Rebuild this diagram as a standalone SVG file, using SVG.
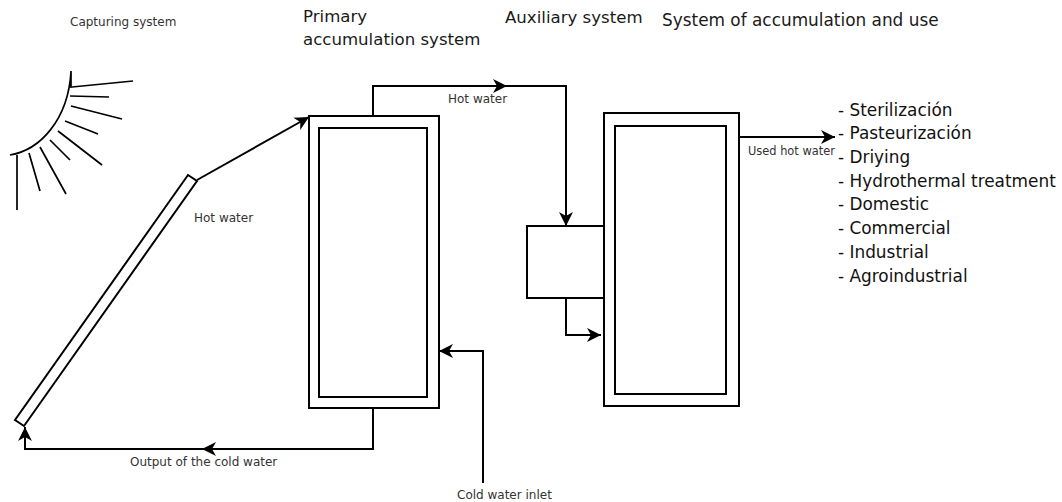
<svg xmlns="http://www.w3.org/2000/svg" width="1062" height="502" viewBox="0 0 1062 502">
<style>
text{font-family:"DejaVu Sans",sans-serif;fill:#1a1a1a}
.s{font-size:12px;fill:#333}
.h{font-size:16.6px}
.l{font-size:16.9px;fill:#111}
.w{fill:#fff;stroke:#000;stroke-width:2}
.c{fill:none;stroke:#000;stroke-width:2}
.t{fill:none;stroke:#000;stroke-width:1.7}
</style>
<defs>
<marker id="a" markerUnits="userSpaceOnUse" markerWidth="16" markerHeight="16" refX="14" refY="8" orient="auto"><path d="M0 1L14 8L0 15L4 8Z" fill="#000"/></marker>
</defs>
<rect width="1062" height="502" fill="#fff"/>
<g id="sun">
<path class="t" d="M10 155C40 150 68 120 71 72M71 71V88M72 87L133 81M70 96L109 97M71 106L122 119M65 121L98 134M58 131L102 165M50 140L70 160M40 147L66 194M29 153L40 191M17 155V210"/>
</g>
<g id="collector"><path class="w" d="M188 175L197 181L24 426L15 420Z"/></g>
<g id="primary">
<rect class="w" x="309" y="116" width="130" height="292"/>
<rect class="w" x="319" y="128" width="108" height="269"/>
</g>
<g id="auxiliary"><rect class="w" x="527" y="226" width="78" height="72"/></g>
<g id="secondary">
<rect class="w" x="604" y="113" width="135" height="293"/>
<rect class="w" x="615" y="126" width="111" height="268"/>
</g>
<g id="connectors">
<path class="c" marker-end="url(#a)" d="M197 180L309 117"/>
<path class="c" marker-end="url(#a)" d="M373 116V86H507"/>
<path class="c" marker-end="url(#a)" d="M507 86H566V226"/>
<path class="c" marker-end="url(#a)" d="M566 298V335H601"/>
<path class="c" marker-end="url(#a)" d="M739 137H835"/>
<path class="c" marker-end="url(#a)" d="M483 483V351H439"/>
<path class="c" marker-end="url(#a)" d="M373 408V449H202"/>
<path class="c" marker-end="url(#a)" d="M202 449H25V427"/>
</g>
<g id="labels">
<text class="s" x="70" y="26">Capturing system</text>
<text class="s" x="194" y="222">Hot water</text>
<text class="s" x="448" y="103">Hot water</text>
<text class="s" x="748" y="155" style="font-size:11.4px">Used hot water</text>
<text class="s" x="130" y="466">Output of the cold water</text>
<text class="s" x="457" y="499">Cold water inlet</text>
<text class="h" x="303" y="22">Primary</text>
<text class="h" x="303" y="45">accumulation system</text>
<text class="h" x="505" y="23">Auxiliary system</text>
<text class="h" x="662" y="26" style="font-size:16.9px">System of accumulation and use</text>
<text class="l" x="838" y="116">- Sterilización</text>
<text class="l" x="838" y="139">- Pasteurización</text>
<text class="l" x="838" y="163">- Driying</text>
<text class="l" x="838" y="187">- Hydrothermal treatment</text>
<text class="l" x="838" y="210">- Domestic</text>
<text class="l" x="838" y="234">- Commercial</text>
<text class="l" x="838" y="258">- Industrial</text>
<text class="l" x="838" y="282">- Agroindustrial</text>
</g>
</svg>
